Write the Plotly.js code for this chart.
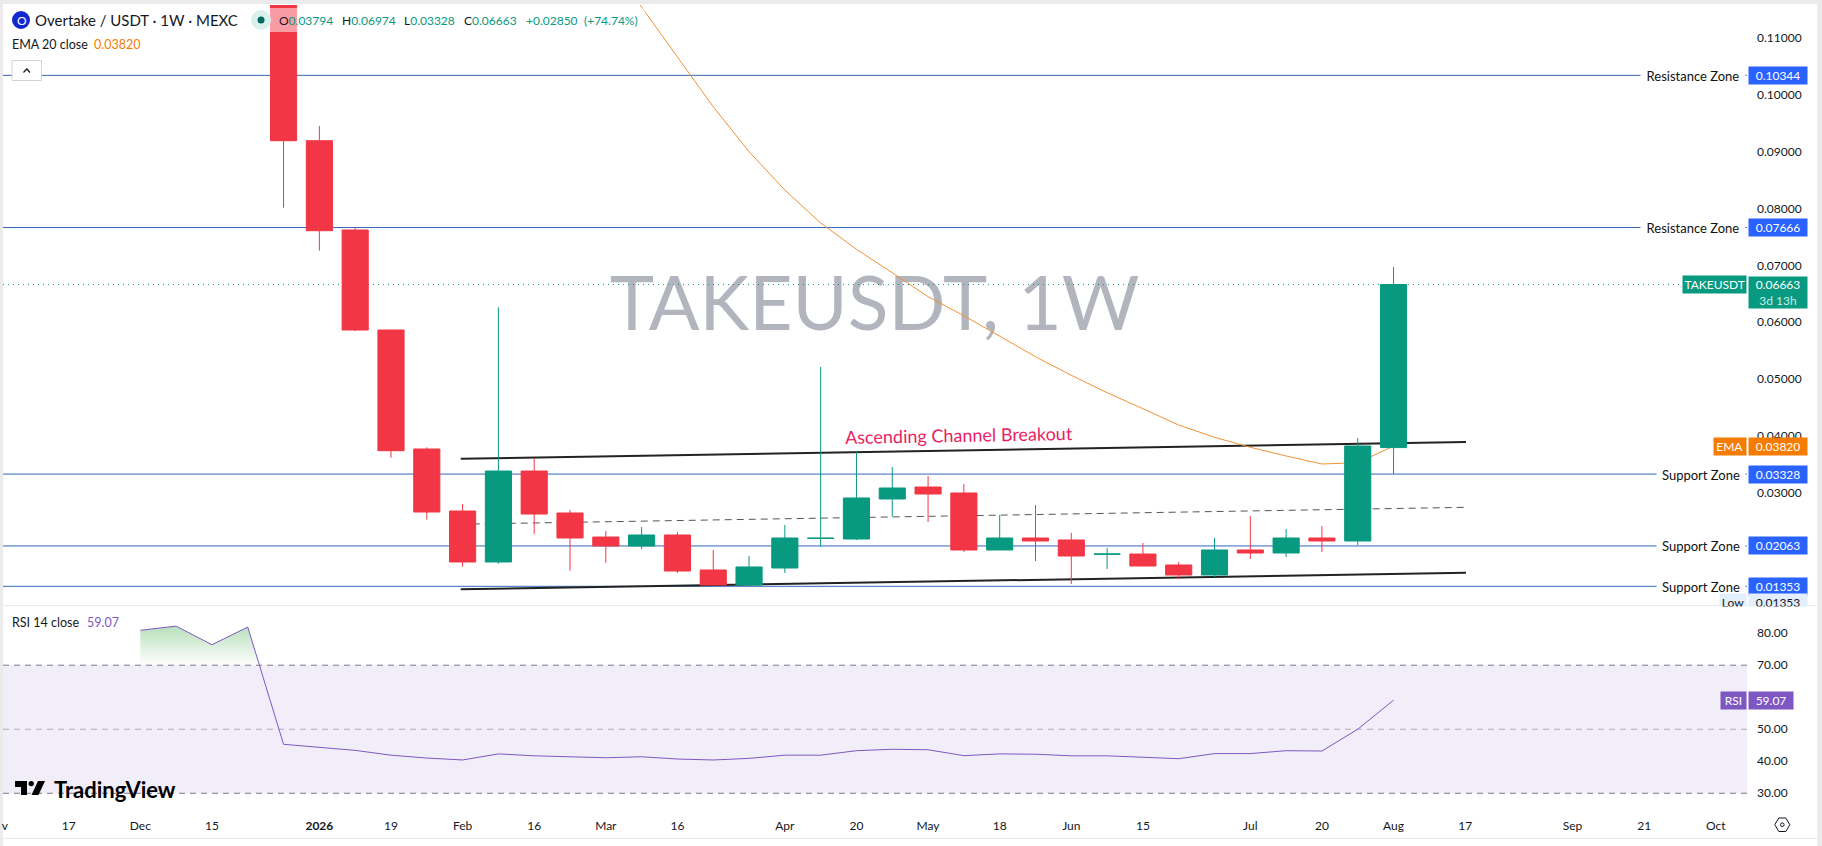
<!DOCTYPE html>
<html>
<head>
<meta charset="utf-8">
<script src="https://cdn.plot.ly/plotly-3.0.1.min.js"></script>
<style>
  html, body { margin: 0; padding: 0; background: #fff; overflow: hidden; }
</style>
</head>
<body>
<div id="chart" style="width:1822px;height:846px;"></div>
<script>
'use strict';

var weeks = ['2025-12-29', '2026-01-05', '2026-01-12', '2026-01-19', '2026-01-26', '2026-02-02', '2026-02-09', '2026-02-16',
    '2026-02-23', '2026-03-02', '2026-03-09', '2026-03-16', '2026-03-23', '2026-03-30', '2026-04-06', '2026-04-13',
    '2026-04-20', '2026-04-27', '2026-05-04', '2026-05-11', '2026-05-18', '2026-05-25', '2026-06-01', '2026-06-08',
    '2026-06-15', '2026-06-22', '2026-06-29', '2026-07-06', '2026-07-13', '2026-07-20', '2026-07-27', '2026-08-03'];

var opens = [0.135, 0.09194, 0.07623, 0.05863, 0.03769, 0.02678, 0.01781, 0.03382,
    0.02643, 0.02220, 0.02062, 0.02256, 0.01640, 0.01376, 0.01675, 0.02195,
    0.02185, 0.02889, 0.03100, 0.02995, 0.01992, 0.02203, 0.02168, 0.01916,
    0.01921, 0.01728, 0.01552, 0.01992, 0.01939, 0.02203, 0.02150, 0.03794];
var highs = [0.135, 0.09453, 0.07666, 0.05863, 0.03799, 0.02801, 0.06262, 0.03605,
    0.02696, 0.02326, 0.02396, 0.02308, 0.01992, 0.01886, 0.02432, 0.05212,
    0.03716, 0.03452, 0.03294, 0.03153, 0.02608, 0.02784, 0.02291, 0.02027,
    0.02115, 0.01781, 0.02203, 0.02590, 0.02361, 0.02414, 0.03962, 0.06974];
var lows = [0.08015, 0.07258, 0.05845, 0.03616, 0.02525, 0.01698, 0.01751, 0.02273,
    0.01627, 0.01768, 0.02009, 0.01587, 0.01364, 0.01364, 0.01587, 0.02050,
    0.02168, 0.02578, 0.02484, 0.01957, 0.01992, 0.01798, 0.01393, 0.01657,
    0.01710, 0.01481, 0.01517, 0.01833, 0.01869, 0.01957, 0.02080, 0.03328];
var closes = [0.09194, 0.07610, 0.05863, 0.03739, 0.02660, 0.01781, 0.03382, 0.02625,
    0.02203, 0.02062, 0.02256, 0.01622, 0.01376, 0.01693, 0.02203, 0.02200,
    0.02907, 0.03083, 0.02977, 0.01992, 0.02203, 0.02150, 0.01886, 0.01921,
    0.01710, 0.01552, 0.01992, 0.01939, 0.02203, 0.02150, 0.03822, 0.06663];

var emaWeeks = weeks.slice(9);
var emaValues = [0.12461, 0.11546, 0.10667, 0.09792, 0.09000, 0.08326, 0.07746, 0.07283,
    0.06871, 0.06449, 0.06115, 0.05757, 0.05393, 0.05066, 0.04760, 0.04478,
    0.04191, 0.03975, 0.03799, 0.03646, 0.03505, 0.03528, 0.03820];

var rsiWeeks = ['2025-12-01', '2025-12-08', '2025-12-15', '2025-12-22'].concat(weeks);
var rsiValues = [80.9, 82.2, 76.4, 81.9, 45.3, 44.4, 43.4, 41.9, 41.0, 40.4, 42.3, 41.7,
    41.3, 41.1, 41.4, 40.7, 40.4, 40.9, 41.9, 41.9, 43.3, 43.75, 43.6, 41.75, 42.3, 42.2,
    41.7, 41.7, 41.25, 40.8, 42.4, 42.4, 43.3, 43.2, 50.0, 59.07];
var rsiTopDates = ['2025-12-01', '2025-12-08', '2025-12-15', '2025-12-22', '2025-12-24 05:00'];
var rsiTopValues = [80.9, 82.2, 76.4, 81.9, 70];
var rsiFloorValues = [70, 70, 70, 70, 70];

var channelDates = ['2026-02-01 15:30', '2026-08-17 04:00'];
var channelTop = [0.03598, 0.03892];
var channelMid = [0.02446, 0.02743];
var channelBottom = [0.01300, 0.01592];

var zoneLevels = [0.10344, 0.07666, 0.03328, 0.02063, 0.01353];
var zoneNames = ['Resistance Zone', 'Resistance Zone', 'Support Zone', 'Support Zone', 'Support Zone'];

var priceTicks = [0.03, 0.04, 0.05, 0.06, 0.07, 0.08, 0.09, 0.10, 0.11];
var priceTickText = ['0.03000', '0.04000', '0.05000', '0.06000', '0.07000', '0.08000', '0.09000', '0.10000', '0.11000'];
var rsiTicks = [30, 40, 50, 70, 80];
var rsiTickText = ['30.00', '40.00', '50.00', '70.00', '80.00'];
var timeTicks = ['2025-11-04 12:00', '2025-11-17', '2025-12-01', '2025-12-15', '2026-01-05', '2026-01-19', '2026-02-02', '2026-02-16',
    '2026-03-02', '2026-03-16', '2026-04-06', '2026-04-20', '2026-05-04', '2026-05-18', '2026-06-01', '2026-06-15',
    '2026-07-06', '2026-07-20', '2026-08-03', '2026-08-17', '2026-09-07', '2026-09-21', '2026-10-05'];
var timeTickText = ['v', '17', 'Dec', '15', '<b>2026</b>', '19', 'Feb', '16', 'Mar', '16', 'Apr', '20', 'May', '18', 'Jun', '15',
    'Jul', '20', 'Aug', '17', 'Sep', '21', 'Oct'];

var ohlcLabels = ['O', 'H', 'L', 'C', '', ''];
var ohlcValues = ['0.03794', '0.06974', '0.03328', '0.06663', '+0.02850', '(+74.74%)'];
var ohlcLefts = [277.7, 340.6, 403, 463.4, 525, 582.6];

var timeRange = ['2025-11-04 03:36', '2026-10-11 02:24'];
var priceRange = [0.01024, 0.11582];
var rsiRange = [24.78, 88.8];

var FONT = 'Lato, "Noto Sans", sans-serif';
var GREEN = '#089981';
var RED = '#f23645';
var BLUE_LINE = '#3568b8';
var BLUE_TAG = '#2962ff';
var ORANGE = '#f57c00';
var PURPLE = '#7e57c2';
var INK = '#131722';

// plot box in page pixels
var LEFT = 3, RIGHT = 1746.7, TOP = 5, BOTTOM = 810, SPLIT = 605;

function px(x) { return (x - LEFT) / (RIGHT - LEFT); }
function py(y) { return (BOTTOM - y) / (BOTTOM - TOP); }

var traces = [];

traces.push({
    x: ['2026-04-23 13:00'], y: [0.06185], mode: 'text', text: ['TAKEUSDT, 1W'], textposition: 'middle center',
    textfont: { family: FONT, size: 75, color: '#b2b5be' }, hoverinfo: 'skip', showlegend: false, xaxis: 'x', yaxis: 'y'
});

zoneLevels.forEach(function (level) {
    traces.push({
        x: timeRange, y: [level, level], mode: 'lines', line: { color: BLUE_LINE, width: 1 },
        hoverinfo: 'skip', showlegend: false, xaxis: 'x', yaxis: 'y'
    });
});

traces.push({
    x: timeRange, y: [closes[31], closes[31]], mode: 'lines', line: { color: GREEN, width: 1, dash: '1px,4px' },
    hoverinfo: 'skip', showlegend: false, xaxis: 'x', yaxis: 'y'
});

traces.push({
    x: channelDates, y: channelTop, mode: 'lines', line: { color: '#222222', width: 2 },
    hoverinfo: 'skip', showlegend: false, xaxis: 'x', yaxis: 'y'
});
traces.push({
    x: channelDates, y: channelBottom, mode: 'lines', line: { color: '#222222', width: 2 },
    hoverinfo: 'skip', showlegend: false, xaxis: 'x', yaxis: 'y'
});
traces.push({
    x: channelDates, y: channelMid, mode: 'lines', line: { color: '#555555', width: 1, dash: '7px,5px' },
    hoverinfo: 'skip', showlegend: false, xaxis: 'x', yaxis: 'y'
});

traces.push({
    x: emaWeeks, y: emaValues, mode: 'lines', line: { color: '#f09237', width: 1 },
    hoverinfo: 'skip', showlegend: false, xaxis: 'x', yaxis: 'y'
});

// candles sit on an overlaying axis so they cover the lines above
traces.push({
    type: 'candlestick', x: weeks, open: opens, high: highs, low: lows, close: closes,
    increasing: { line: { color: GREEN, width: 1 }, fillcolor: GREEN },
    decreasing: { line: { color: RED, width: 1 }, fillcolor: RED },
    whiskerwidth: 0, hoverinfo: 'skip', showlegend: false, xaxis: 'x', yaxis: 'y3'
});

traces.push({
    x: rsiTopDates, y: rsiFloorValues, mode: 'lines', line: { width: 0 },
    hoverinfo: 'skip', showlegend: false, xaxis: 'x', yaxis: 'y2'
});
traces.push({
    x: rsiTopDates, y: rsiTopValues, mode: 'none', fill: 'tonexty',
    fillgradient: {
        type: 'vertical', start: 83, stop: 70,
        colorscale: [[0, 'rgba(76,175,80,0.42)'], [1, 'rgba(76,175,80,0)']]
    },
    hoverinfo: 'skip', showlegend: false, xaxis: 'x', yaxis: 'y2'
});
traces.push({
    x: rsiWeeks, y: rsiValues, mode: 'lines', line: { color: PURPLE, width: 1 },
    hoverinfo: 'skip', showlegend: false, xaxis: 'x', yaxis: 'y2'
});

function paperRect(x0, y0, x1, y1, fill, layer, line) {
    return {
        type: 'rect', xref: 'paper', yref: 'paper', x0: px(x0), x1: px(x1), y0: py(y0), y1: py(y1),
        fillcolor: fill, line: line || { width: 0 }, layer: layer || 'below'
    };
}

function paperPath(points, fill, line) {
    var d = points.map(function (p, i) {
        return (i === 0 ? 'M' : 'L') + px(p[0]) + ',' + py(p[1]);
    }).join(' ') + (fill ? ' Z' : '');
    return {
        type: 'path', xref: 'paper', yref: 'paper', path: d, fillcolor: fill || 'rgba(0,0,0,0)',
        line: line || { width: 0 }, layer: 'above'
    };
}

function paperCircle(cx, cy, r, fill, line) {
    return {
        type: 'circle', xref: 'paper', yref: 'paper', x0: px(cx - r), x1: px(cx + r), y0: py(cy + r), y1: py(cy - r),
        fillcolor: fill, line: line || { width: 0 }, layer: 'above'
    };
}

var shapes = [
    paperRect(0, 0, 1822, 4, '#ebebeb'),
    paperRect(0, 0, 3, 846, '#ebebeb'),
    paperRect(1817, 0, 1822, 846, '#ebebeb'),
    paperRect(3, 605, 1817, 605.8, '#e0e3eb'),
    paperRect(3, 838, 1817, 838.8, '#e0e3eb'),
    { type: 'rect', xref: 'paper', yref: 'y2', x0: 0, x1: 1, y0: 30, y1: 70, fillcolor: 'rgba(126,87,194,0.1)', line: { width: 0 }, layer: 'below' },
    { type: 'line', xref: 'paper', yref: 'y2', x0: 0, x1: 1, y0: 70, y1: 70, line: { color: '#787b86', width: 1, dash: '6px,5px' }, layer: 'below' },
    { type: 'line', xref: 'paper', yref: 'y2', x0: 0, x1: 1, y0: 50, y1: 50, line: { color: '#aeaeb6', width: 1, dash: '6px,5px' }, layer: 'below' },
    { type: 'line', xref: 'paper', yref: 'y2', x0: 0, x1: 1, y0: 30, y1: 30, line: { color: '#787b86', width: 1, dash: '6px,5px' }, layer: 'below' },
    // legend row washes out the candle behind it
    paperRect(5, 8, 645, 32, 'rgba(255,255,255,0.5)', 'above'),
    paperCircle(21, 20, 9, '#1428d0'),
    paperCircle(261, 20, 10, '#d9f0ec'),
    paperCircle(261, 20, 3.5, '#00695c'),
    // collapse button
    paperRect(12, 60.5, 41.5, 80.5, '#ffffff', 'above', { color: '#d1d4dc', width: 1 }),
    paperPath([[23.5, 72.5], [26.8, 69], [30, 72.5]], null, { color: INK, width: 1.2 }),
    // TradingView mark
    paperPath([[15, 781], [27, 781], [27, 795], [21, 795], [21, 787], [15, 787]], '#000000'),
    paperCircle(31.2, 783.6, 2.7, '#000000'),
    paperPath([[38, 781], [45, 781], [38.5, 795], [31.5, 795]], '#000000'),
    // settings hexagon
    paperPath([[1774.5, 824.7], [1778.5, 818], [1785.5, 818], [1789.5, 824.7], [1785.5, 831.5], [1778.5, 831.5], [1774.5, 824.7]], null, { color: '#131722', width: 1 }),
    paperCircle(1782, 824.7, 1.8, '#ffffff', { color: '#131722', width: 1 })
];

var annotations = [];

function textAt(text, x, y, size, color, extra) {
    var a = {
        text: text, xref: 'paper', yref: 'paper', x: px(x), y: py(y), xanchor: 'left', yanchor: 'middle', showarrow: false,
        font: { family: FONT, size: size, color: color }, borderpad: 0
    };
    for (var k in extra) { a[k] = extra[k]; }
    annotations.push(a);
}

function axisTag(text, y, yref, bg, width, height, color) {
    annotations.push({
        text: text, xref: 'paper', x: 1, xshift: 1.3, xanchor: 'left', yref: yref, y: y, yanchor: 'middle', showarrow: false,
        width: width, height: height, bgcolor: bg, borderpad: 0, align: 'center',
        font: { family: FONT, size: 12, color: color || '#ffffff' }
    });
}

function nameTag(text, y, yref, bg, width, height, color) {
    annotations.push({
        text: text, xref: 'paper', x: 1, xanchor: 'right', yref: yref, y: y, yanchor: 'middle', showarrow: false,
        width: width, height: height, bgcolor: bg, borderpad: 0, align: 'center',
        font: { family: FONT, size: 12, color: color || '#ffffff' }
    });
}

zoneLevels.forEach(function (level, i) {
    annotations.push({
        text: zoneNames[i], xref: 'paper', x: 1, xshift: -0.7, xanchor: 'right', yref: 'y', y: level, yanchor: 'middle', showarrow: false,
        width: zoneNames[i] === 'Support Zone' ? 88 : 104, height: 15, bgcolor: '#ffffff', borderpad: 0, align: 'center',
        font: { family: FONT, size: 13, color: '#111111' }
    });
    axisTag(zoneLevels[i].toFixed(5), level, 'y', BLUE_TAG, 58, 17);
});

// Low label is cut off by the pane border
nameTag('Low', py(602.8), 'paper', '#e3effd', 26, 17, INK);
axisTag('0.01353', py(602.8), 'paper', '#e3effd', 58, 17, INK);
annotations.push({
    text: ' ', xref: 'paper', yref: 'paper', x: px(1712), y: py(606), xanchor: 'left', yanchor: 'top', showarrow: false,
    width: 98, height: 8, bgcolor: '#ffffff', borderpad: 0
});

nameTag('TAKEUSDT', closes[31], 'y', GREEN, 63.4, 17);
annotations.push({
    text: '0.06663<br><span style="color:#c8ebe5">3d 13h</span>', xref: 'paper', x: 1, xshift: 1.3, xanchor: 'left',
    yref: 'paper', y: py(276), yanchor: 'top', showarrow: false, width: 58, height: 31, bgcolor: GREEN, borderpad: 0, align: 'center',
    font: { family: FONT, size: 12, color: '#ffffff' }
});

nameTag('EMA', emaValues[emaValues.length - 1], 'y', ORANGE, 31.5, 17);
axisTag('0.03820', emaValues[emaValues.length - 1], 'y', ORANGE, 58, 17);
nameTag('RSI', rsiValues[rsiValues.length - 1], 'y2', PURPLE, 25, 17);
axisTag('59.07', rsiValues[rsiValues.length - 1], 'y2', PURPLE, 44, 17);

textAt('O', 16.3, 20, 12, '#ffffff', { xanchor: 'left' });
textAt('Overtake / USDT · 1W · MEXC', 33.8, 20, 15, INK);
ohlcValues.forEach(function (v, i) {
    var s = ohlcLabels[i] ? '<span style="color:' + INK + '">' + ohlcLabels[i] + '</span>' + v : v;
    textAt(s, ohlcLefts[i], 20, 12, GREEN);
});
textAt('EMA 20 close', 11, 44.7, 12.5, INK);
textAt('0.03820', 92.5, 44.7, 12.5, ORANGE);
textAt('RSI 14 close', 11, 622.7, 12.5, INK);
textAt('59.07', 86, 622.7, 12.5, PURPLE);
textAt('TradingView', 52.7, 789, 22, '#000000', { font: { family: FONT, size: 22, color: '#000000', weight: 700 } });
textAt('Ascending Channel Breakout', 843.5, 435, 18, '#e91e63', { textangle: -1 });

var layout = {
    width: 1822,
    height: 846,
    autosize: false,
    margin: { l: LEFT, r: 1822 - RIGHT, t: TOP, b: 846 - BOTTOM, pad: 0 },
    paper_bgcolor: '#ffffff',
    plot_bgcolor: 'rgba(0,0,0,0)',
    showlegend: false,
    hovermode: false,
    dragmode: false,
    boxgap: 0.27,
    boxgroupgap: 0,
    font: { family: FONT, size: 12, color: INK },
    xaxis: {
        type: 'date', range: timeRange, anchor: 'y2', domain: [0, 1],
        rangeslider: { visible: false },
        tickmode: 'array', tickvals: timeTicks, ticktext: timeTickText, tickangle: 0,
        ticks: '', showgrid: false, zeroline: false, showline: false,
        ticklabelstandoff: 7, tickfont: { family: FONT, size: 12, color: INK }
    },
    yaxis: {
        domain: [py(SPLIT), 1], range: priceRange, side: 'right', anchor: 'x',
        tickmode: 'array', tickvals: priceTicks, ticktext: priceTickText,
        ticks: '', showgrid: false, zeroline: false, showline: false,
        ticklabelstandoff: 9, tickfont: { family: FONT, size: 12, color: INK }
    },
    yaxis2: {
        domain: [0, py(SPLIT)], range: rsiRange, side: 'right', anchor: 'x',
        tickmode: 'array', tickvals: rsiTicks, ticktext: rsiTickText,
        ticks: '', showgrid: false, zeroline: false, showline: false,
        ticklabelstandoff: 9, tickfont: { family: FONT, size: 12, color: INK }
    },
    yaxis3: {
        overlaying: 'y', range: priceRange, side: 'right', anchor: 'x', visible: false,
        showgrid: false, zeroline: false
    },
    shapes: shapes,
    annotations: annotations
};

Plotly.newPlot('chart', traces, layout, { displayModeBar: false, staticPlot: true, responsive: false });
</script>
</body>
</html>
